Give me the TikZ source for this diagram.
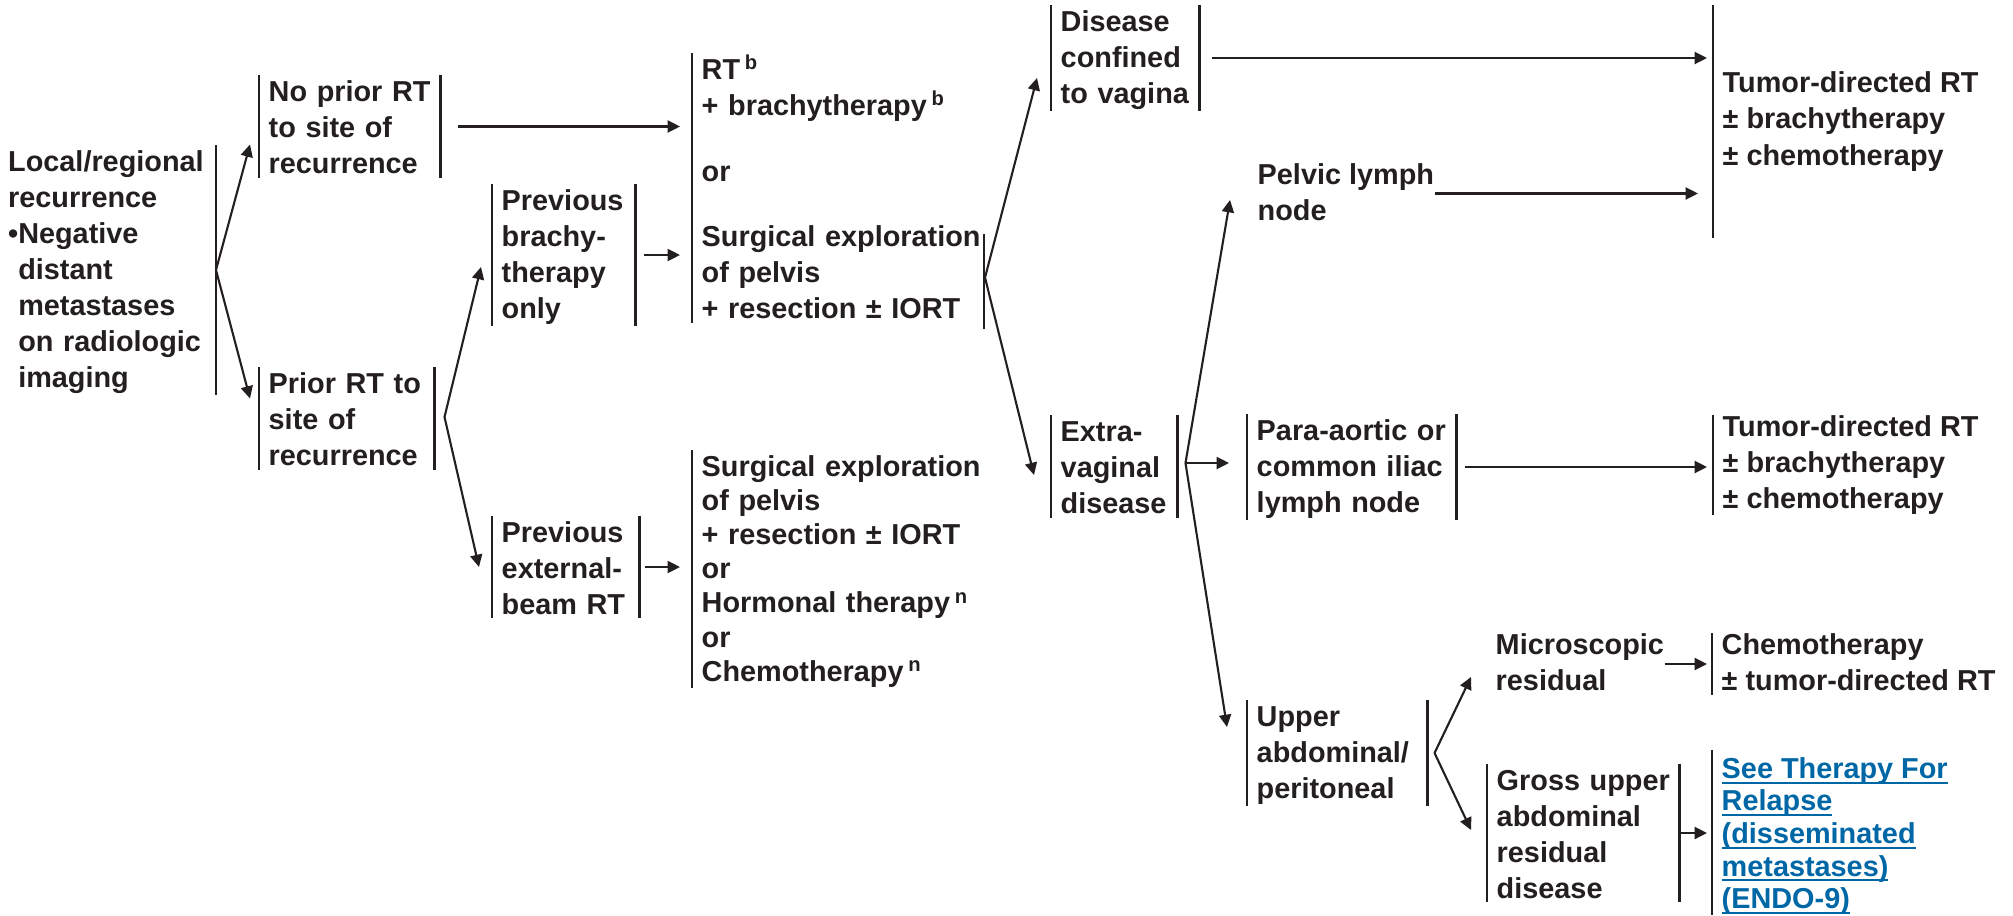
\documentclass[tikz,border=0pt]{standalone}
\usepackage{fontspec}
\setmainfont{Liberation Sans}
\usetikzlibrary{arrows.meta,calc}
\definecolor{ink}{HTML}{231F20}
\definecolor{linkblue}{HTML}{0067A6}
\setlength{\parindent}{0pt}
\newsavebox{\lnkbox}
\newcommand{\topstrut}{\rule{0pt}{7.3pt}}
\newcommand{\botstrut}{\rule[-1pt]{0pt}{1pt}}
\newcommand{\fnote}[1]{\,\textsuperscript{#1}}
\newcommand{\lnk}[1]{\sbox{\lnkbox}{#1}\rlap{\rule[-1.5pt]{\wd\lnkbox}{0.55pt}}\usebox{\lnkbox}}
\tikzset{
  txt/.style={font=\fontsize{8.2}{10.25}\selectfont\bfseries,text=ink,align=left,
    inner xsep=0.09cm,inner ysep=0pt,
    execute at begin node=\topstrut,execute at end node=\botstrut},
  txt_tight/.style={txt,font=\fontsize{8.2}{9.7}\selectfont\bfseries},
  txt_link/.style={txt,text=linkblue,font=\fontsize{8.2}{9.25}\selectfont\bfseries},
  txt_free/.style={txt,inner xsep=0pt},
  bar/.style={draw=ink,line width=0.7pt},
  arr/.style={-{Triangle[length=3.5pt,width=3.4pt]},draw=ink,line width=0.6pt},
}
\begin{document}
\begin{tikzpicture}[x=0.01cm, y=-0.01cm]
  \useasboundingbox (0,0) rectangle (2013,915);

  % first columns
  \node[txt,anchor=east,text width=1.98cm] (loc) at (216,270) {Local/regional\\recurrence\\\textbullet Negative\\\phantom{\textbullet}distant\\\phantom{\textbullet}metastases\\\phantom{\textbullet}on radiologic\\\phantom{\textbullet}imaging};
  \node[txt,anchor=west,text width=1.62cm] (noprior) at (259,126.5) {No prior RT\\to site of\\recurrence};
  \node[txt,anchor=west,text width=1.56cm] (priorrt) at (259,418.5) {Prior RT to\\site of\\recurrence};
  \node[txt,anchor=west,text width=1.24cm] (prevbr) at (492,255) {Previous\\brachy-\\therapy\\only};
  \node[txt,anchor=west,text width=1.28cm] (prevext) at (492,567) {Previous\\external-\\beam RT};
  \node[txt,anchor=west,text width=2.82cm] (rtopt) at (692,188) {RT\fnote{b}\\+ brachytherapy\fnote{b}\\[8.3pt]or\\[8.3pt]Surgical exploration\\of pelvis\\+ resection ± IORT};
  \node[txt_tight,anchor=west,text width=2.82cm] (surgopt) at (692,569) {Surgical exploration\\of pelvis\\+ resection ± IORT\\or\\Hormonal therapy\fnote{n}\\or\\Chemotherapy\fnote{n}};

  % disease extent
  \node[txt,anchor=west,text width=1.29cm] (confined) at (1051,58) {Disease\\confined\\to vagina};
  \node[txt,anchor=west,text width=1.07cm] (extrav) at (1051,466.5) {Extra-\\vaginal\\disease};
  \node[txt_free,anchor=west] (pelvic) at (1257,193.5) {Pelvic lymph\\node};
  \node[txt,anchor=west,text width=1.90cm] (paraaortic) at (1247,467) {Para-aortic or\\common iliac\\lymph node};
  \node[txt,anchor=west,text width=1.61cm] (upperab) at (1247,753) {Upper\\abdominal/\\peritoneal};
  \node[txt_free,anchor=west] (micro) at (1495,664) {Microscopic\\residual};
  \node[txt,anchor=west,text width=1.73cm] (gross) at (1487,833) {Gross upper\\abdominal\\residual\\disease};

  % treatment
  \node[txt,anchor=west,minimum height=2.31cm] (tumor1) at (1713,121.5) {Tumor-directed RT\\± brachytherapy\\± chemotherapy};
  \node[txt,anchor=west] (tumor2) at (1713,465) {Tumor-directed RT\\± brachytherapy\\± chemotherapy};
  \node[txt,anchor=west] (chemo) at (1712,664) {Chemotherapy\\± tumor-directed RT};
  \node[txt_link,anchor=west] (seether) at (1712,836) {\lnk{See Therapy For}\\\lnk{Relapse}\\\lnk{(disseminated}\\\lnk{metastases)}\\\lnk{(ENDO-9)}};

  % brackets
  \foreach \n in {noprior,priorrt,prevbr,prevext,confined,extrav,paraaortic,upperab,gross}
    \draw[bar] (\n.north west) -- (\n.south west) (\n.north east) -- (\n.south east);
  \foreach \n in {rtopt,surgopt,tumor1,tumor2,chemo}
    \draw[bar] (\n.north west) -- (\n.south west);
  \draw[bar] (loc.north east) -- (loc.south east);
  \draw[bar] ($(seether.north west)+(0,-7)$) -- (seether.south west);
  \draw[bar] ($(rtopt.south west)+(292,6)$) -- ++(0,-95);

  \coordinate (prfan) at ($(priorrt.east)+(10,-1.5)$);
  \coordinate (rtfan) at ($(rtopt.south west)+(293,-45)$);
  \coordinate (xvfan) at ($(extrav.east)+(8,-3.5)$);
  \coordinate (uafan) at ($(upperab.east)+(7,0)$);

  % connectors
  \draw[arr] (loc.east) -- ($(noprior.west)+(-9,18)$);
  \draw[arr] (loc.east) -- ($(priorrt.west)+(-9,-20)$);
  \draw[arr,shorten <=0.17cm,shorten >=0.12cm] (noprior.east) -- (noprior.east -| rtopt.west);
  \draw[arr] (prfan) -- ($(prevbr.west)+(-11,12)$);
  \draw[arr] (prfan) -- ($(prevext.west)+(-13,0)$);
  \draw[arr,shorten <=0.08cm,shorten >=0.12cm] (prevbr.east) -- (prevbr.east -| rtopt.west);
  \draw[arr,shorten <=0.05cm,shorten >=0.12cm] (prevext.east) -- (prevext.east -| surgopt.west);
  \draw[arr] (rtfan) -- ($(confined.west)+(-14,20)$);
  \draw[arr] (rtfan) -- ($(extrav.west)+(-17,8.5)$);
  \draw[arr,shorten <=0.12cm,shorten >=0.06cm] (confined.east) -- (confined.east -| tumor1.west);
  \draw[arr,shorten >=0.15cm] (pelvic.east) -- (pelvic.east -| tumor1.west);
  \draw[arr] (xvfan) -- ($(pelvic.west)+(-27,6.5)$);
  \draw[arr,shorten >=0.18cm] (xvfan) -- (xvfan -| paraaortic.west);
  \draw[arr] (xvfan) -- ($(upperab.west)+(-20,-26)$);
  \draw[arr,shorten <=0.08cm,shorten >=0.06cm] (paraaortic.east) -- (paraaortic.east -| tumor2.west);
  \draw[arr] (uafan) -- ($(micro.west)+(-24,13)$);
  \draw[arr] (uafan) -- ($(gross.west)+(-16,-3)$);
  \draw[arr,shorten >=0.05cm] (micro.east) -- (micro.east -| chemo.west);
  \draw[arr,shorten >=0.05cm] (gross.east) -- (gross.east -| seether.west);
\end{tikzpicture}
\end{document}
